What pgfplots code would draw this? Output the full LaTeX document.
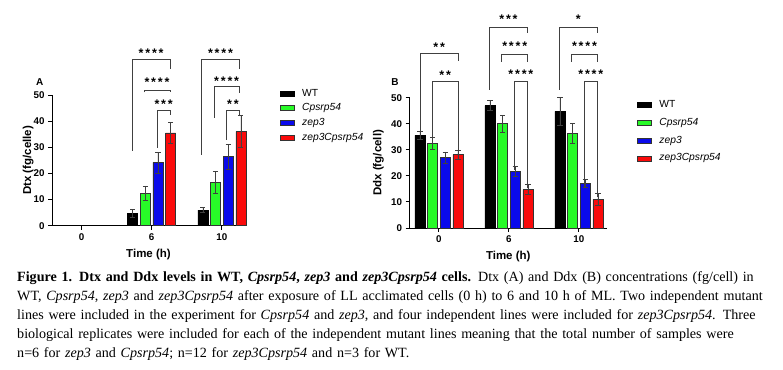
\documentclass[border=0pt]{standalone}
\usepackage{pgfplots}
\pgfplotsset{compat=1.18}
\usepackage{fontspec}
\setmainfont{Liberation Serif}
\newfontfamily\arial{Liberation Sans}
\definecolor{gpgreen}{RGB}{40,250,40}
\definecolor{gpblue}{RGB}{10,10,235}
\definecolor{gpred}{RGB}{250,10,10}
\newcommand\sty{\arial\bfseries\fontsize{12.5}{12.5}\selectfont}
\newcommand\stars[1]{\sty\ifcase#1\or*\or*\kern1.8pt*\or*\kern1.8pt*\kern1.8pt*\or*\kern1.8pt*\kern1.8pt*\kern1.8pt*\fi}
% bracket: left x, right x, top y, left bottom, right bottom, n stars, star top y  (pixel coords, y from top)
\newcommand\brk[7]{%
  \draw[line width=0.8pt, black!75] ({#1},{369-#4}) -- ({#1},{369-#3}) -- ({#2},{369-#3}) -- ({#2},{369-#5});
  \node[anchor=north, inner sep=0pt] at ({(#1+#2)/2},{369-#7}) {\stars{#6}};}
\newcommand\capline[1]{\makebox[750pt][s]{#1}}
\pgfplotsset{
  gp/.style={
    scale only axis, anchor=south west, clip=false,
    axis lines=left, axis line style={-, line width=0.9pt},
    xtick={0,1,2}, xticklabels={0,6,10}, ytick={0,10,...,50},
    ymin=0, ymax=50,
    tick align=outside, major tick length=4pt,
    tick style={line width=0.9pt, black},
    /pgf/number format/assume math mode=true,
    ticklabel style={font=\arial\bfseries\fontsize{9.8}{10}\selectfont},
    label style={font=\arial\bfseries\fontsize{11.5}{12}\selectfont},
    ybar, bar width=10pt,
    error bars/error bar style={line width=0.6pt, black!75},
    error bars/error mark options={rotate=90, mark size=2.6pt, line width=0.6pt, black!75},
    legend image code/.code={\draw[#1, line width=0.6pt] (0pt,-2.5pt) rectangle (14pt,2.5pt);},
    legend cell align=left,
  },
  s1/.style={bar shift=-19pt, fill=black, draw=black, line width=0.6pt},
  s2/.style={bar shift=-6.3pt, fill=gpgreen, draw=black!80, line width=0.6pt},
  s3/.style={bar shift=6.3pt, fill=gpblue, draw=black!80, line width=0.6pt},
  s4/.style={bar shift=19pt, fill=gpred, draw=black!80, line width=0.6pt},
}
\begin{document}
\begin{tikzpicture}[x=1pt,y=1pt]
\useasboundingbox (0,0) rectangle (783,369);
% ---------------- Panel A ----------------
\begin{axis}[gp, at={(52pt,143.3pt)}, width=193pt, height=130.7pt,
  xmin=-0.42, xmax=2.33,
  xlabel={Time (h)}, ylabel={Dtx (fg/celle)},
  xlabel style={at={(axis description cs:0.5,-0.224)}, anchor=center},
  ylabel style={at={(axis description cs:-0.124,0.5)}, anchor=center},
  legend style={at={(1.178,1.054)}, anchor=north west, draw=none, fill=none, inner sep=0pt,
    font=\arial\fontsize{10.3}{11}\selectfont, row sep=4.1pt, column sep=7.5pt,
    nodes={text height=7.5pt, text depth=2.2pt, inner sep=0.5pt}},
]
\addplot[s1, error bars/.cd, y dir=both, y explicit] coordinates {(1,4.8) +- (0,1.5) (2,6.0) +- (0,1.0)};
\addplot[s2, error bars/.cd, y dir=both, y explicit] coordinates {(1,12.5) +- (0,2.7) (2,16.6) +- (0,4.2)};
\addplot[s3, error bars/.cd, y dir=both, y explicit] coordinates {(1,24.2) +- (0,4.0) (2,26.4) +- (0,4.8)};
\addplot[s4, error bars/.cd, y dir=both, y explicit] coordinates {(1,35.5) +- (0,4.0) (2,36.0) +- (0,6.1)};
\legend{WT, \textit{Cpsrp54}, \textit{zep3}, \textit{zep3Cpsrp54}}
\end{axis}
% ---------------- Panel B ----------------
\begin{axis}[gp, at={(409.5pt,141pt)}, width=197.5pt, height=130.3pt,
  xmin=-0.42, xmax=2.401,
  xlabel={Time (h)}, ylabel={Ddx (fg/cell)},
  xlabel style={at={(axis description cs:0.5,-0.216)}, anchor=center},
  ylabel style={at={(axis description cs:-0.157,0.5)}, anchor=center},
  legend style={at={(1.150,0.985)}, anchor=north west, draw=none, fill=none, inner sep=0pt,
    font=\arial\fontsize{10.3}{11}\selectfont, row sep=7pt, column sep=7.5pt,
    nodes={text height=7.5pt, text depth=2.2pt, inner sep=0.5pt}},
]
\addplot[s1, error bars/.cd, y dir=both, y explicit] coordinates {(0,35.5) +- (0,1.5) (1,47.0) +- (0,2.0) (2,44.8) +- (0,5.2)};
\addplot[s2, error bars/.cd, y dir=both, y explicit] coordinates {(0,32.5) +- (0,2.4) (1,40.0) +- (0,3.3) (2,36.2) +- (0,3.8)};
\addplot[s3, error bars/.cd, y dir=both, y explicit] coordinates {(0,27.0) +- (0,2.2) (1,21.7) +- (0,2.0) (2,17.2) +- (0,1.6)};
\addplot[s4, error bars/.cd, y dir=both, y explicit] coordinates {(0,28.2) +- (0,1.8) (1,14.7) +- (0,1.9) (2,11.0) +- (0,2.3)};
\legend{WT, \textit{Cpsrp54}, \textit{zep3}, \textit{zep3Cpsrp54}}
\end{axis}
% panel letters
\node[font=\arial\bfseries\fontsize{10}{10}\selectfont, inner sep=0pt] at (39.7,{369-81.7}) {A};
\node[font=\arial\bfseries\fontsize{10}{10}\selectfont, inner sep=0pt] at (395,{369-82}) {B};
% significance brackets, panel A
\brk{132.3}{170}{59.3}{151}{69.3}{4}{48.3}
\brk{144}{170}{90}{92.5}{92.5}{4}{77.7}
\brk{157.3}{170}{110}{148}{115}{3}{99.4}
\brk{201.7}{239.3}{59.3}{155}{69}{4}{48.3}
\brk{214}{239.3}{86.7}{118}{93}{4}{77}
\brk{226.7}{239.3}{110}{140}{115}{2}{99.4}
% significance brackets, panel B
\brk{420.3}{458}{53.3}{133.3}{61}{2}{42.7}
\brk{432.3}{458}{81}{139}{155}{2}{70.4}
\brk{489.3}{527.7}{27.7}{90}{33.3}{3}{14.4}
\brk{501.7}{527.7}{54.3}{61.7}{61.7}{4}{42}
\brk{514}{527.7}{81}{170}{188}{4}{69.4}
\brk{559.3}{597.3}{27.7}{90}{33.3}{1}{14.4}
\brk{571.7}{597.3}{54.3}{61.7}{61.7}{4}{42}
\brk{584.3}{597.3}{81}{188}{196.7}{4}{69.4}
% caption
\node[anchor=north west, inner sep=0pt, text width=750pt, align=left,
  font=\fontsize{14.1}{19.2}\selectfont] at (17,{369-271}) {%
\capline{\textbf{Figure 1. Dtx and Ddx levels in WT, \textit{Cpsrp54}, \textit{zep3} and \textit{zep3Cpsrp54} cells.} Dtx (A) and Ddx (B) concentrations (fg/cell) in}\\
\capline{WT, \textit{Cpsrp54}, \textit{zep3} and \textit{zep3Cpsrp54} after exposure of LL acclimated cells (0 h) to 6 and 10 h of ML. Two independent mutant}\\
\capline{lines were included in the experiment for \textit{Cpsrp54} and \textit{zep3}, and four independent lines were included for \textit{zep3Cpsrp54}. Three}\\
\capline{biological replicates were included for each of the independent mutant lines meaning that the total number of samples were}\\
n=6 for \textit{zep3} and \textit{Cpsrp54}; n=12 for \textit{zep3Cpsrp54} and n=3 for WT.};
\end{tikzpicture}
\end{document}
